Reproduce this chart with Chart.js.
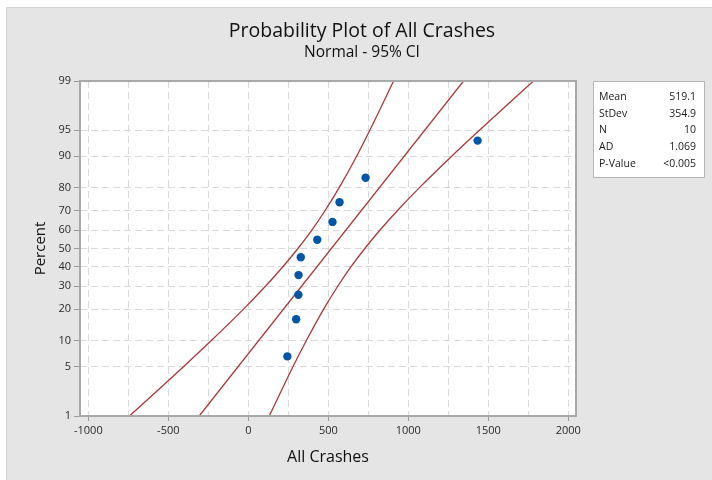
<!DOCTYPE html>
<html>
<head>
<meta charset="utf-8">
<title>Probability Plot of All Crashes</title>
<script src="https://cdn.jsdelivr.net/npm/chart.js@4.4.0/dist/chart.umd.min.js"></script>
<style>
  body { margin: 0; background: #fff; }
  #wrap { position: absolute; left: 0; top: 0; width: 712px; height: 480px; }
</style>
</head>
<body>
<div id="wrap"><canvas id="probChart" width="712" height="480"></canvas></div>
<script>
// ---------------- data ----------------
// all crashes, sorted, and their plotted percent (median ranks)
const crashValues   = [244, 299, 313, 314, 328, 431, 526, 570, 733, 1433];
const crashPercents = [6.7, 16.3, 26.0, 35.6, 45.2, 54.8, 64.4, 74.0, 83.7, 93.3];

// fitted normal line (ends at 1% and 99%)
const fitPercents = [1, 99];
const fitValues   = [-307, 1345];

// 95% CI band
const bandPercents = [1, 5, 10, 20, 30, 40, 50, 60, 70, 80, 90, 95, 99];
const bandLower    = [-743, -407, -233, -30, 107, 216, 310, 396, 479, 567, 677, 760, 908];
const bandUpper    = [131, 278, 362, 471, 559, 642, 728, 822, 931, 1068, 1271, 1446, 1782];

// axes
const percentTicks = [1, 5, 10, 20, 30, 40, 50, 60, 70, 80, 90, 95, 99];
const xTickValues  = [-1000, -750, -500, -250, 0, 250, 500, 750, 1000, 1250, 1500, 1750, 2000];

// stats box
const statLabels = ['Mean', 'StDev', 'N', 'AD', 'P-Value'];
const statValues = ['519.1', '354.9', '10', '1.069', '<0.005'];

const lineColor = '#a63a3a';
const dotColor = '#0056a6';
const fontFamily = "'Open Sans', 'Noto Sans', sans-serif";

// ---------------- normal probability scale ----------------
// inverse normal cdf (Acklam)
function probit(p) {
    const a = [-3.969683028665376e+01, 2.209460984245205e+02, -2.759285104469687e+02, 1.383577518672690e+02, -3.066479806614716e+01, 2.506628277459239e+00];
    const b = [-5.447609879822406e+01, 1.615858368580409e+02, -1.556989798598866e+02, 6.680131188771972e+01, -1.328068155288572e+01];
    const c = [-7.784894002430293e-03, -3.223964580411365e-01, -2.400758277161838e+00, -2.549732539343734e+00, 4.374664141464968e+00, 2.938163982698783e+00];
    const d = [7.784695709041462e-03, 3.224671290700398e-01, 2.445134137142996e+00, 3.754408661907416e+00];
    const pl = 0.02425;
    let q, r;
    if (p < pl) {
        q = Math.sqrt(-2 * Math.log(p));
        return (((((c[0]*q+c[1])*q+c[2])*q+c[3])*q+c[4])*q+c[5]) / ((((d[0]*q+d[1])*q+d[2])*q+d[3])*q+1);
    }
    if (p > 1 - pl) {
        q = Math.sqrt(-2 * Math.log(1 - p));
        return -(((((c[0]*q+c[1])*q+c[2])*q+c[3])*q+c[4])*q+c[5]) / ((((d[0]*q+d[1])*q+d[2])*q+d[3])*q+1);
    }
    q = p - 0.5; r = q * q;
    return (((((a[0]*r+a[1])*r+a[2])*r+a[3])*r+a[4])*r+a[5])*q / (((((b[0]*r+b[1])*r+b[2])*r+b[3])*r+b[4])*r+1);
}

class ProbabilityScale extends Chart.LinearScale {
    determineDataLimits() {
        this.min = this.options.min;
        this.max = this.options.max;
    }
    buildTicks() {
        return percentTicks.map(v => ({ value: v }));
    }
    getPixelForValue(value) {
        const z0 = probit(this.min / 100), z1 = probit(this.max / 100);
        return this.getPixelForDecimal((probit(value / 100) - z0) / (z1 - z0));
    }
    getValueForPixel(pixel) {
        // rough inverse, only used for interaction
        const z0 = probit(this.min / 100), z1 = probit(this.max / 100);
        const z = z0 + this.getDecimalForPixel(pixel) * (z1 - z0);
        return 100 / (1 + Math.exp(-1.702 * z));
    }
}
ProbabilityScale.id = 'probability';
ProbabilityScale.defaults = Chart.LinearScale.defaults;
Chart.register(ProbabilityScale);

// ---------------- drawing helpers ----------------
const backdropPlugin = {
    id: 'backdrop',
    beforeDraw(chart) {
        const ctx = chart.ctx, area = chart.chartArea;
        ctx.save();
        ctx.fillStyle = '#ffffff';
        ctx.fillRect(0, 0, chart.width, chart.height);
        ctx.fillStyle = '#e5e5e5';
        ctx.fillRect(6, 7, chart.width - 6, chart.height - 7);
        ctx.strokeStyle = '#d2d2d2';
        ctx.lineWidth = 1;
        ctx.strokeRect(6.5, 7.5, chart.width - 6, chart.height - 7);
        ctx.fillStyle = '#ffffff';
        ctx.fillRect(area.left, area.top, area.right - area.left, area.bottom - area.top);
        ctx.restore();
    },
    afterDraw(chart) {
        const ctx = chart.ctx, area = chart.chartArea;
        ctx.save();
        // plot frame
        ctx.strokeStyle = '#a9a9a9';
        ctx.lineWidth = 2;
        ctx.strokeRect(area.left, area.top, area.right - area.left, area.bottom - area.top);

        // titles
        ctx.fillStyle = '#111';
        ctx.textAlign = 'center';
        ctx.textBaseline = 'middle';
        ctx.font = '19.5px ' + fontFamily;
        ctx.fillText('Probability Plot of All Crashes', 362, 31);
        ctx.font = '15.5px ' + fontFamily;
        ctx.fillText('Normal - 95% CI', 362, 53);

        // stats box
        ctx.fillStyle = '#ffffff';
        ctx.fillRect(593, 81, 111, 96);
        ctx.strokeStyle = '#b4b4b4';
        ctx.lineWidth = 1;
        ctx.strokeRect(593.5, 81.5, 111, 96);
        ctx.font = '10.5px ' + fontFamily;
        ctx.fillStyle = '#1a1a1a';
        for (let i = 0; i < statLabels.length; i++) {
            const y = 97 + i * 16.75;
            ctx.textAlign = 'left';
            ctx.fillText(statLabels[i], 599, y);
            ctx.textAlign = 'right';
            ctx.fillText(statValues[i], 696, y);
        }
        ctx.restore();
    }
};

// ---------------- chart ----------------
const toPoints = (xs, ps) => xs.map((v, i) => ({ x: v, y: ps[i] }));

new Chart(document.getElementById('probChart'), {
    type: 'scatter',
    data: {
        datasets: [
            {
                label: 'All Crashes',
                data: toPoints(crashValues, crashPercents),
                pointRadius: 4.2,
                pointBackgroundColor: dotColor,
                pointBorderWidth: 0
            },
            {
                label: 'Fit',
                data: toPoints(fitValues, fitPercents),
                showLine: true,
                pointRadius: 0,
                borderColor: lineColor,
                borderWidth: 1.3
            },
            {
                label: 'Lower CI',
                data: toPoints(bandLower, bandPercents),
                showLine: true,
                pointRadius: 0,
                borderColor: lineColor,
                borderWidth: 1.3,
                cubicInterpolationMode: 'monotone'
            },
            {
                label: 'Upper CI',
                data: toPoints(bandUpper, bandPercents),
                showLine: true,
                pointRadius: 0,
                borderColor: lineColor,
                borderWidth: 1.3,
                cubicInterpolationMode: 'monotone'
            }
        ]
    },
    options: {
        responsive: false,
        animation: false,
        events: [],
        layout: { padding: { left: 0, top: 81, right: 136, bottom: 0 } },
        plugins: {
            legend: { display: false },
            title: { display: false },
            tooltip: { enabled: false }
        },
        scales: {
            x: {
                type: 'linear',
                min: -1052,
                max: 2048,
                afterBuildTicks: scale => { scale.ticks = xTickValues.map(v => ({ value: v })); },
                afterFit: scale => { scale.height = 64; },
                ticks: {
                    autoSkip: false,
                    maxRotation: 0,
                    padding: 3,
                    color: '#2a2a2a',
                    font: { size: 11, family: fontFamily },
                    callback: v => (v % 500 === 0 ? String(v) : '')
                },
                grid: {
                    color: '#d9d9d9',
                    lineWidth: 1,
                    tickLength: 5,
                    tickBorderDash: [],
                    tickWidth: 1,
                    tickColor: ctx => (ctx.tick && ctx.tick.value % 500 === 0 ? '#9a9a9a' : 'rgba(0,0,0,0)')
                },
                border: { display: false, dash: [7, 4] },
                title: {
                    display: true,
                    text: 'All Crashes',
                    color: '#111',
                    font: { size: 16, family: fontFamily },
                    padding: { top: 0, bottom: 13 }
                }
            },
            y: {
                type: 'probability',
                min: 1,
                max: 99,
                afterFit: scale => { scale.width = 80; },
                ticks: {
                    autoSkip: false,
                    padding: 3,
                    color: '#2a2a2a',
                    font: { size: 11, family: fontFamily },
                    callback: v => String(v)
                },
                grid: {
                    color: '#d9d9d9',
                    lineWidth: 1,
                    tickLength: 6,
                    tickBorderDash: [],
                    tickWidth: 1,
                    tickColor: '#9a9a9a'
                },
                border: { display: false, dash: [7, 4] },
                title: {
                    display: true,
                    text: 'Percent',
                    color: '#111',
                    font: { size: 15, family: fontFamily },
                    padding: { top: 32, bottom: 0 }
                }
            }
        }
    },
    plugins: [backdropPlugin]
});
</script>
</body>
</html>
